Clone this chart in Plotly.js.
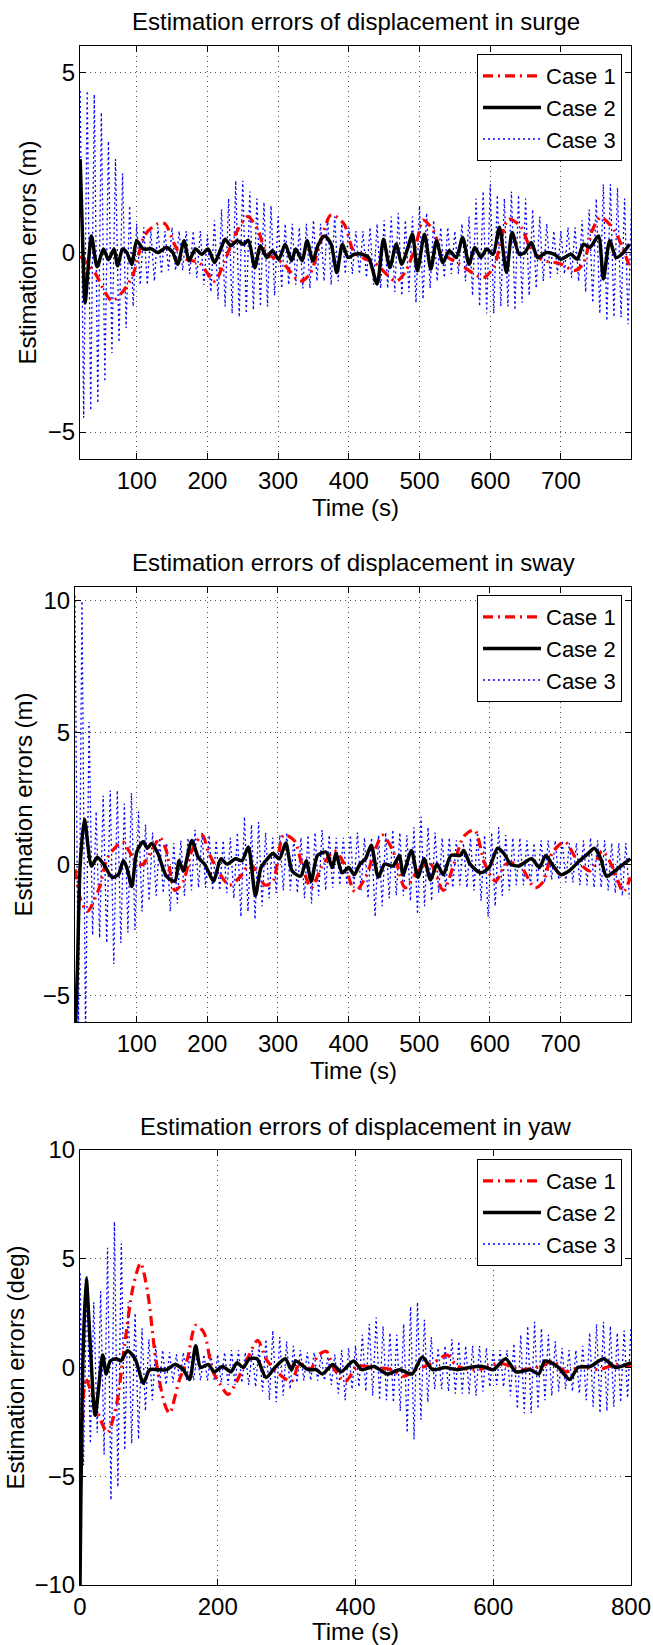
<!DOCTYPE html>
<html>
<head>
<meta charset="utf-8">
<script src="https://cdn.plot.ly/plotly-3.0.1.min.js"></script>
<style>html,body{margin:0;padding:0;background:#fff;}#chart{width:653px;height:1645px;}</style>
</head>
<body>
<div id="chart"></div>
<script>
// ---------------- DATA ----------------
const plotTitles = ['Estimation errors of displacement in surge', 'Estimation errors of displacement in sway', 'Estimation errors of displacement in yaw'];
const yTitles = ['Estimation errors (m)', 'Estimation errors (m)', 'Estimation errors (deg)'];
const xTitle = 'Time (s)';
const caseNames = ['Case 1', 'Case 2', 'Case 3'];

// Surge
const surgeC1T = [20, 30, 42, 55, 65, 80, 95, 112, 130, 140, 154, 165, 189, 210, 225, 242, 257, 272, 283, 307, 331, 345, 360, 375, 393, 408, 437, 467, 481, 496, 505, 520, 531, 555, 590, 605, 626, 644, 655, 673, 697, 720, 732, 744, 756, 776, 799];
const surgeC1V = [-0.1, -0.3, -0.6, -1.1, -1.35, -1.1, -0.6, 0.5, 0.8, 0.8, 0.2, -0.15, -0.3, -0.8, -0.2, 0.6, 1.0, 0.6, 0.0, -0.3, -0.8, -0.6, 0.3, 1.05, 0.8, 0.0, -0.3, -0.8, -0.5, 0.3, 0.9, 0.6, 0.0, -0.3, -0.7, -0.4, 0.93, 0.7, 0.2, -0.2, -0.3, -0.5, -0.3, 0.6, 0.98, 0.6, -0.5];
const surgeC2T = [20, 24, 27, 36, 44, 53, 60, 68, 73, 80, 86, 93, 100, 109, 121, 130, 142, 151, 158, 167, 174, 183, 192, 201, 210, 219, 225, 233, 242, 251, 258, 267, 275, 284, 292, 301, 310, 319, 325, 334, 341, 349, 357, 366, 375, 383, 391, 399, 408, 419, 428, 440, 449, 458, 467, 475, 483, 490, 497, 507, 516, 524, 533, 542, 552, 561, 570, 578, 587, 595, 604, 613, 623, 631, 641, 649, 658, 667, 679, 691, 700, 714, 723, 732, 741, 753, 760, 769, 778, 786, 797];
const surgeC2V = [2.6, 0.0, -1.4, 0.46, -0.4, 0.1, -0.2, 0.1, -0.37, 0.1, 0.0, -0.33, 0.33, 0.1, 0.1, 0.0, 0.14, 0.0, -0.33, 0.33, -0.23, 0.1, -0.05, 0.1, -0.28, 0.1, 0.37, 0.19, 0.33, 0.23, 0.34, -0.42, 0.19, -0.14, 0.05, -0.19, 0.23, -0.23, 0.1, -0.23, 0.33, -0.23, 0.23, 0.46, 0.23, -0.56, 0.23, -0.14, -0.05, -0.05, -0.14, -0.88, 0.37, -0.42, 0.23, -0.33, 0.1, 0.51, -0.51, 0.51, -0.46, 0.33, -0.28, 0.05, -0.14, 0.42, -0.33, 0.14, -0.14, 0.1, -0.05, 0.7, -0.56, 0.56, -0.05, 0.0, 0.28, -0.14, 0.0, -0.05, -0.19, -0.05, -0.19, 0.23, 0.14, 0.46, -0.74, 0.33, -0.14, -0.05, 0.23];
// Case 3: fast oscillation, read as alternating peaks (upper) and troughs (lower), one reading every 5 s
const surgeC3Start = 20;
const surgeC3Up = [4.5, 4.5, 4.4, 3.9, 3.1, 2.6, 2.2, 1.3, 0.8, 0.7, 0.6, 0.7, 0.6, 0.7, 0.6, 0.6, 0.6, 0.6, 0.5, 0.9, 1.2, 1.5, 2.0, 2.0, 1.7, 1.5, 1.4, 1.3, 1.0, 0.8, 0.8, 0.7, 0.8, 0.9, 0.8, 1.0, 1.0, 0.8, 0.7, 0.6, 0.6, 0.7, 0.8, 0.9, 1.0, 1.1, 0.9, 1.0, 1.3, 1.1, 0.9, 0.7, 0.7, 0.6, 0.8, 1.0, 1.5, 1.7, 1.9, 1.6, 1.5, 1.7, 1.6, 1.5, 1.2, 1.0, 0.8, 0.6, 0.6, 0.7, 0.7, 0.9, 1.2, 1.5, 1.9, 1.9, 1.8, 1.5, 1.4];
const surgeC3Lo = [-4.6, -4.4, -4.2, -3.6, -2.8, -2.5, -2.1, -1.5, -0.9, -0.9, -0.8, -0.6, -0.5, -0.5, -0.5, -0.6, -0.7, -0.9, -1.1, -1.3, -1.5, -1.7, -1.8, -1.7, -1.6, -1.5, -1.5, -1.2, -1.0, -0.9, -0.9, -1.0, -1.0, -0.8, -0.8, -0.9, -0.8, -0.6, -0.6, -0.6, -0.7, -0.9, -1.0, -1.0, -1.1, -1.2, -1.1, -1.4, -1.3, -1.0, -0.8, -0.7, -0.6, -0.6, -0.8, -1.2, -1.5, -1.7, -1.7, -1.5, -1.5, -1.6, -1.4, -1.2, -1.0, -0.8, -0.7, -0.6, -0.6, -0.7, -0.8, -1.1, -1.4, -1.7, -1.9, -1.8, -1.8, -2.0];

// Sway
const swayC1T = [13, 20, 30, 47, 59, 80, 89, 100, 109, 121, 133, 142, 154, 166, 178, 193, 201, 210, 231, 246, 261, 282, 293, 308, 323, 335, 347, 362, 380, 394, 409, 424, 439, 448, 463, 480, 498, 516, 534, 549, 563, 578, 593, 608, 623, 641, 664, 676, 688, 706, 724, 742, 759, 774, 789, 799];
const swayC1V = [-0.2, -1.3, -1.8, -0.9, 0.26, 0.85, 0.5, 0.0, 0.0, 0.5, 1.0, 0.5, -1.0, -0.65, 0.5, 1.1, 0.5, 0.0, -0.8, -0.5, 0.0, -0.8, -0.65, 1.1, 0.9, -0.13, -0.9, -0.1, 0.5, 0.0, -1.05, -0.5, 0.65, 1.1, 0.5, -0.9, -0.26, 0.0, -1.0, 0.0, 1.05, 1.3, 0.0, -0.65, 0.0, 0.0, -0.9, -0.65, 0.4, 0.85, 0.13, -0.26, 0.5, -0.13, -1.05, -0.5];
const swayC2T = [13, 16, 20, 26, 36, 44, 53, 65, 74, 81, 86, 93, 100, 109, 115, 121, 130, 142, 154, 160, 166, 178, 187, 196, 201, 209, 219, 228, 240, 249, 258, 268, 276, 285, 293, 302, 311, 320, 332, 340, 347, 356, 368, 377, 382, 391, 400, 408, 416, 424, 432, 442, 451, 463, 472, 477, 489, 498, 507, 516, 525, 534, 545, 558, 563, 572, 587, 599, 611, 620, 629, 641, 659, 670, 679, 688, 700, 712, 727, 739, 748, 757, 765, 777, 789, 799];
const swayC2V = [-6.5, -4.0, 0.0, 1.7, -0.07, 0.26, 0.0, -0.5, -0.4, 0.13, -0.13, -0.85, 0.46, 0.85, 0.6, 0.78, 0.4, -0.46, -0.65, 0.13, -0.26, 0.9, 0.26, 0.0, -0.26, -0.65, 0.2, 0.0, 0.2, 0.13, 0.65, -1.2, -0.13, 0.2, 0.4, 0.2, 0.8, -0.26, -0.46, 0.13, -0.65, 0.33, 0.46, -0.13, 0.4, -0.33, -0.13, -0.4, 0.0, 0.2, 0.72, -0.5, 0.0, -0.07, 0.33, -0.4, 0.52, -0.5, 0.2, -0.6, 0.0, -0.4, 0.33, 0.33, 0.52, 0.0, -0.33, -0.13, 0.6, 0.4, 0.0, -0.07, 0.2, -0.13, 0.33, 0.0, -0.4, -0.26, 0.13, 0.4, 0.6, 0.2, -0.46, -0.26, 0.0, 0.2];
const swayC3Start = 12.5;
const swayC3Up = [10.2, 10.0, 5.4, 2.0, 2.6, 2.8, 2.8, 2.3, 2.7, 2.0, 1.5, 1.2, 1.0, 0.8, 0.8, 0.9, 1.0, 1.3, 1.2, 1.1, 0.9, 0.9, 1.0, 1.2, 1.8, 1.5, 1.6, 1.2, 1.0, 1.1, 1.2, 1.0, 1.0, 1.1, 1.2, 1.3, 1.1, 1.0, 1.0, 1.1, 1.2, 1.0, 1.0, 1.1, 1.2, 1.3, 1.2, 1.1, 1.4, 1.8, 1.4, 1.2, 1.0, 1.0, 0.9, 0.8, 1.0, 1.2, 1.1, 1.2, 1.4, 1.1, 1.0, 1.0, 0.9, 0.8, 0.9, 0.9, 0.9, 0.9, 0.8, 0.8, 0.9, 1.0, 0.9, 0.9, 0.8, 0.8, 0.8];
const swayC3Lo = [-6.5, -6.5, -2.7, -2.8, -3.0, -3.8, -3.0, -2.6, -2.5, -1.8, -1.4, -1.2, -1.1, -1.8, -1.5, -1.2, -1.0, -0.9, -0.9, -1.0, -1.0, -1.1, -1.3, -2.0, -1.8, -2.1, -1.6, -1.3, -1.1, -1.0, -1.0, -1.1, -1.3, -1.5, -1.2, -1.0, -0.9, -0.8, -0.8, -0.9, -1.0, -1.3, -2.0, -1.6, -1.3, -1.2, -1.2, -1.4, -1.9, -1.6, -1.4, -1.1, -1.0, -0.9, -0.8, -0.9, -1.0, -1.4, -2.0, -1.6, -1.2, -1.0, -0.8, -0.8, -0.8, -0.7, -0.7, -0.6, -0.6, -0.7, -0.7, -0.8, -0.8, -0.9, -0.9, -1.0, -1.1, -1.2, -1.3];

// Yaw
const yawC1T = [0, 3, 8, 15, 25, 40, 53, 65, 77, 88, 98, 110, 123, 130, 144, 156, 168, 180, 192, 204, 215, 225, 243, 258, 270, 289, 307, 319, 334, 346, 358, 367, 385, 403, 427, 452, 470, 488, 512, 533, 548, 578, 609, 639, 669, 687, 705, 729, 753, 778, 800];
const yawC1V = [-6.5, -3.0, -0.5, -1.0, -2.0, -3.0, -1.7, 1.1, 3.7, 4.8, 3.5, 0.4, -1.7, -2.1, -0.6, 0.4, 1.94, 1.6, -0.1, -0.8, -1.24, -0.8, 0.4, 1.25, 0.4, -0.3, -0.64, 0.2, -0.1, 0.57, 0.74, 0.05, -0.64, 0.05, 0.0, -0.1, -0.4, -0.1, 0.2, 0.57, 0.05, -0.1, 0.2, -0.1, 0.05, 0.3, -0.2, 0.05, -0.1, 0.14, 0.05];
const yawC2T = [0, 4, 9, 15, 22, 33, 38, 44, 53, 59, 69, 80, 92, 101, 113, 126, 138, 150, 159, 168, 175, 186, 195, 207, 219, 228, 237, 246, 257, 270, 283, 298, 307, 313, 331, 343, 352, 367, 379, 397, 409, 427, 446, 464, 482, 497, 512, 530, 548, 566, 584, 600, 618, 633, 654, 666, 675, 693, 711, 723, 741, 760, 778, 800];
const yawC2V = [-10, 0.0, 4.1, 1.0, -2.2, 0.57, -0.3, 0.3, 0.4, 0.3, 0.77, 0.4, -0.72, -0.1, -0.1, -0.1, 0.14, -0.1, -0.55, 1.0, 0.0, 0.14, -0.2, 0.05, -0.2, 0.22, 0.0, 0.4, 0.4, -0.46, 0.0, 0.4, -0.1, 0.3, -0.1, -0.1, -0.3, 0.14, -0.2, 0.3, -0.1, 0.05, -0.3, -0.1, -0.3, 0.48, -0.1, 0.0, -0.1, 0.0, 0.05, -0.1, 0.4, -0.2, -0.1, -0.3, 0.3, 0.05, -0.55, 0.0, 0.05, 0.4, 0.0, 0.22];
const yawC3Start = 0;
const yawC3First = -10;
const yawC3Up = [4.4, 4.2, 3.0, 3.5, 5.5, 6.7, 5.7, 3.0, 2.5, 1.8, 1.3, 1.0, 0.8, 0.7, 0.6, 0.7, 0.7, 0.6, 0.6, 0.6, 0.6, 0.7, 0.8, 0.8, 0.7, 0.8, 1.0, 1.3, 1.7, 1.4, 1.2, 1.0, 0.8, 0.7, 0.7, 0.6, 0.5, 0.6, 0.8, 0.9, 1.0, 1.5, 2.0, 2.3, 1.9, 1.6, 1.5, 2.0, 2.8, 3.0, 2.2, 1.4, 0.9, 1.0, 1.3, 1.2, 1.0, 1.0, 1.0, 0.9, 0.8, 0.8, 0.8, 1.1, 1.5, 1.9, 2.1, 1.8, 1.5, 1.2, 0.9, 0.8, 0.8, 1.0, 1.6, 2.0, 2.1, 1.9, 1.6, 1.7, 1.8];
const yawC3Lo = [-4.5, -3.5, -3.0, -4.0, -6.1, -5.5, -3.8, -3.5, -3.3, -2.0, -1.5, -1.0, -0.8, -0.7, -0.7, -0.6, -0.6, -0.6, -0.6, -0.6, -0.7, -0.8, -0.8, -0.7, -0.8, -0.9, -1.1, -1.5, -1.6, -1.3, -1.0, -0.7, -0.6, -0.6, -0.6, -0.6, -0.8, -1.2, -1.5, -1.0, -0.9, -1.1, -1.3, -1.5, -1.5, -1.6, -2.0, -3.0, -3.3, -2.4, -1.6, -1.0, -1.0, -1.1, -1.2, -1.2, -1.2, -1.3, -1.1, -0.9, -0.8, -0.9, -1.3, -1.9, -2.1, -2.1, -1.9, -1.5, -1.3, -1.1, -1.0, -1.1, -1.2, -1.5, -1.8, -2.1, -2.0, -1.8, -1.6, -1.4];
const c3Step = 5;

// axis ranges and ticks
const xRanges = [[19.8, 799.1], [12.6, 799.8], [0, 800]];
const yRanges = [[-5.75, 5.75], [-6, 10.53], [-10, 10]];
const xDticks = [100, 100, 200];
const yDtick = 5;

// ---------------- BUILD ----------------
const W = 653, H = 1645;
const FONT = 'Liberation Sans, Arial, Helvetica, sans-serif';
const px = v => v / W;
const py = v => 1 - v / H;

function zigzag(start, step, up, lo, first) {
  const x = [], y = [];
  if (first !== undefined) { x.push(start); y.push(first); }
  const n = Math.max(up.length, lo.length);
  for (let i = 0; i < n; i++) {
    if (i < up.length) { x.push(start + 2 * i * step); y.push(up[i]); }
    if (i < lo.length) { x.push(start + (2 * i + 1) * step); y.push(lo[i]); }
  }
  return {x, y};
}

const c3 = [
  zigzag(surgeC3Start, c3Step, surgeC3Up, surgeC3Lo),
  zigzag(swayC3Start, c3Step, swayC3Up, swayC3Lo),
  zigzag(yawC3Start, c3Step, yawC3Up, yawC3Lo, yawC3First)
];
const c1 = [[surgeC1T, surgeC1V], [swayC1T, swayC1V], [yawC1T, yawC1V]];
const c2 = [[surgeC2T, surgeC2V], [swayC2T, swayC2V], [yawC2T, yawC2V]];

const traces = [];
for (let k = 0; k < 3; k++) {
  const xa = k === 0 ? 'x' : 'x' + (k + 1);
  const ya = k === 0 ? 'y' : 'y' + (k + 1);
  const lg = k === 0 ? 'legend' : 'legend' + (k + 1);
  traces.push({x: c3[k].x, y: c3[k].y, xaxis: xa, yaxis: ya, legend: lg, name: caseNames[2], legendrank: 3,
    mode: 'lines', line: {color: 'rgb(0,0,255)', width: 1.3, dash: '2px,3px'}});
  traces.push({x: c1[k][0], y: c1[k][1], xaxis: xa, yaxis: ya, legend: lg, name: caseNames[0], legendrank: 1,
    mode: 'lines', line: {color: 'rgb(255,0,0)', width: 3.2, dash: '10px,5px,2px,5px', shape: 'spline', smoothing: 0.8}});
  traces.push({x: c2[k][0], y: c2[k][1], xaxis: xa, yaxis: ya, legend: lg, name: caseNames[1], legendrank: 2,
    mode: 'lines', line: {color: 'black', width: 3.5, shape: 'spline', smoothing: 0.7}});
}

const boxes = [
  {l: 80, r: 631, t: 46, b: 459},
  {l: 75, r: 631, t: 587, b: 1022},
  {l: 80, r: 631, t: 1150, b: 1585}
];
const legendTops = [54, 595, 1159];
const titleY = [21, 562, 1126];
const xTitleY = [507, 1070, 1631];
const yTitleX = [27, 23, 15];
const FS = 24;

function axisBase(isX) {
  return {
    showline: true, linecolor: 'black', linewidth: 1, mirror: 'ticks',
    ticks: 'inside', ticklen: 6, tickwidth: 1, tickcolor: 'black',
    showgrid: true, gridcolor: 'rgb(80,80,80)', gridwidth: 1, griddash: '1px,4px',
    zeroline: false, automargin: false, fixedrange: true,
    tickfont: {size: FS, family: FONT, color: 'black'}, ticklabelstandoff: isX ? 0 : -1
  };
}

const layout = {
  width: W, height: H, margin: {l: 0, r: 0, t: 0, b: 0},
  paper_bgcolor: 'white', plot_bgcolor: 'white',
  font: {family: FONT, color: 'black', size: FS},
  showlegend: true, annotations: []
};

for (let k = 0; k < 3; k++) {
  const b = boxes[k];
  const sx = k === 0 ? '' : String(k + 1);
  const xax = Object.assign(axisBase(true), {domain: [px(b.l), px(b.r)], range: xRanges[k], dtick: xDticks[k], tick0: 0, anchor: 'y' + sx});
  const yax = Object.assign(axisBase(false), {domain: [py(b.b), py(b.t)], range: yRanges[k], dtick: yDtick, tick0: 0, anchor: 'x' + sx});
  layout['xaxis' + sx] = xax;
  layout['yaxis' + sx] = yax;
  layout['legend' + sx] = {
    x: px(622), xanchor: 'right', y: py(legendTops[k]), yanchor: 'top',
    bgcolor: 'white', bordercolor: 'black', borderwidth: 1,
    font: {size: 22, family: FONT, color: 'black'}, traceorder: 'normal', itemwidth: 58,
    tracegroupgap: 0
  };
  const cx = (b.l + b.r) / 2;
  layout.annotations.push({text: plotTitles[k], xref: 'paper', yref: 'paper', x: px(cx), y: py(titleY[k]),
    xanchor: 'center', yanchor: 'middle', showarrow: false, font: {size: FS, family: FONT, color: 'black'}});
  layout.annotations.push({text: xTitle, xref: 'paper', yref: 'paper', x: px(cx), y: py(xTitleY[k]),
    xanchor: 'center', yanchor: 'middle', showarrow: false, font: {size: FS, family: FONT, color: 'black'}});
  layout.annotations.push({text: yTitles[k], xref: 'paper', yref: 'paper', x: px(yTitleX[k]), y: py((b.t + b.b) / 2),
    xanchor: 'center', yanchor: 'middle', textangle: -90, showarrow: false, font: {size: FS, family: FONT, color: 'black'}});
}

Plotly.newPlot('chart', traces, layout, {displayModeBar: false, staticPlot: true});
</script>
</body>
</html>
